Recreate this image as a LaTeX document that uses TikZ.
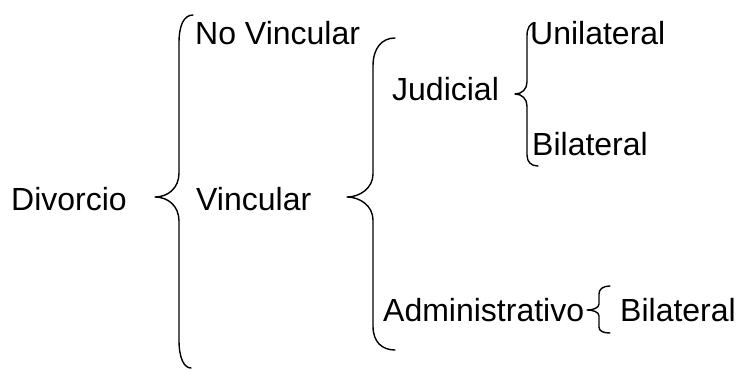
\documentclass[tikz,border=0pt]{standalone}
\usepackage{fontspec}
\setmainfont{Liberation Sans}
\begin{document}
\begin{tikzpicture}[x=1pt,y=-1pt,
  lbl/.style={anchor=base west,inner sep=0pt,font=\fontsize{32}{38}\selectfont},
  brace/.style={line width=1.4pt,line cap=round,line join=round}]
\useasboundingbox (0,0) rectangle (740,370);
\node[lbl] (div) at (11,210) {Divorcio};
\node[lbl] (nov) at (195,44) {No Vincular};
\node[lbl] (vin) at (196,210) {Vincular};
\node[lbl] (jud) at (392,100) {Judicial};
\node[lbl] (uni) at (530,44) {Unilateral};
\node[lbl] (bila) at (532,155) {Bilateral};
\node[lbl] (adm) at (383,321) {Administrativo};
\node[lbl] (bilb) at (620,321) {Bilateral};
% brace 1
\draw[brace] (193,15) .. controls (184,15) and (179,25) .. (179,43) -- (179,173)
  .. controls (179,188) and (168,197) .. (155,197)
  .. controls (168,197) and (179,206) .. (179,221) -- (179,340)
  .. controls (179,358) and (184,368) .. (191,368);
% brace 2
\draw[brace] (395,38) .. controls (382,38) and (373,48) .. (373,66) -- (373,174)
  .. controls (373,188) and (360,197) .. (347,197)
  .. controls (360,197) and (373,206) .. (373,220) -- (373,326)
  .. controls (373,342) and (382,350) .. (395,350);
% brace 3
\draw[brace] (535,23) .. controls (530,23) and (527,28) .. (527,36) -- (527,82)
  .. controls (527,89) and (522,94) .. (515,94)
  .. controls (522,94) and (527,99) .. (527,106) -- (527,155)
  .. controls (527,162) and (531,166) .. (538,166);
% brace 4
\draw[brace] (610,286) .. controls (603,286) and (599,289) .. (599,294) -- (599,304)
  .. controls (599,308) and (593,310) .. (587,310)
  .. controls (593,310) and (599,312) .. (599,316) -- (599,327)
  .. controls (599,331) and (603,333) .. (610,333);
\end{tikzpicture}
\end{document}
